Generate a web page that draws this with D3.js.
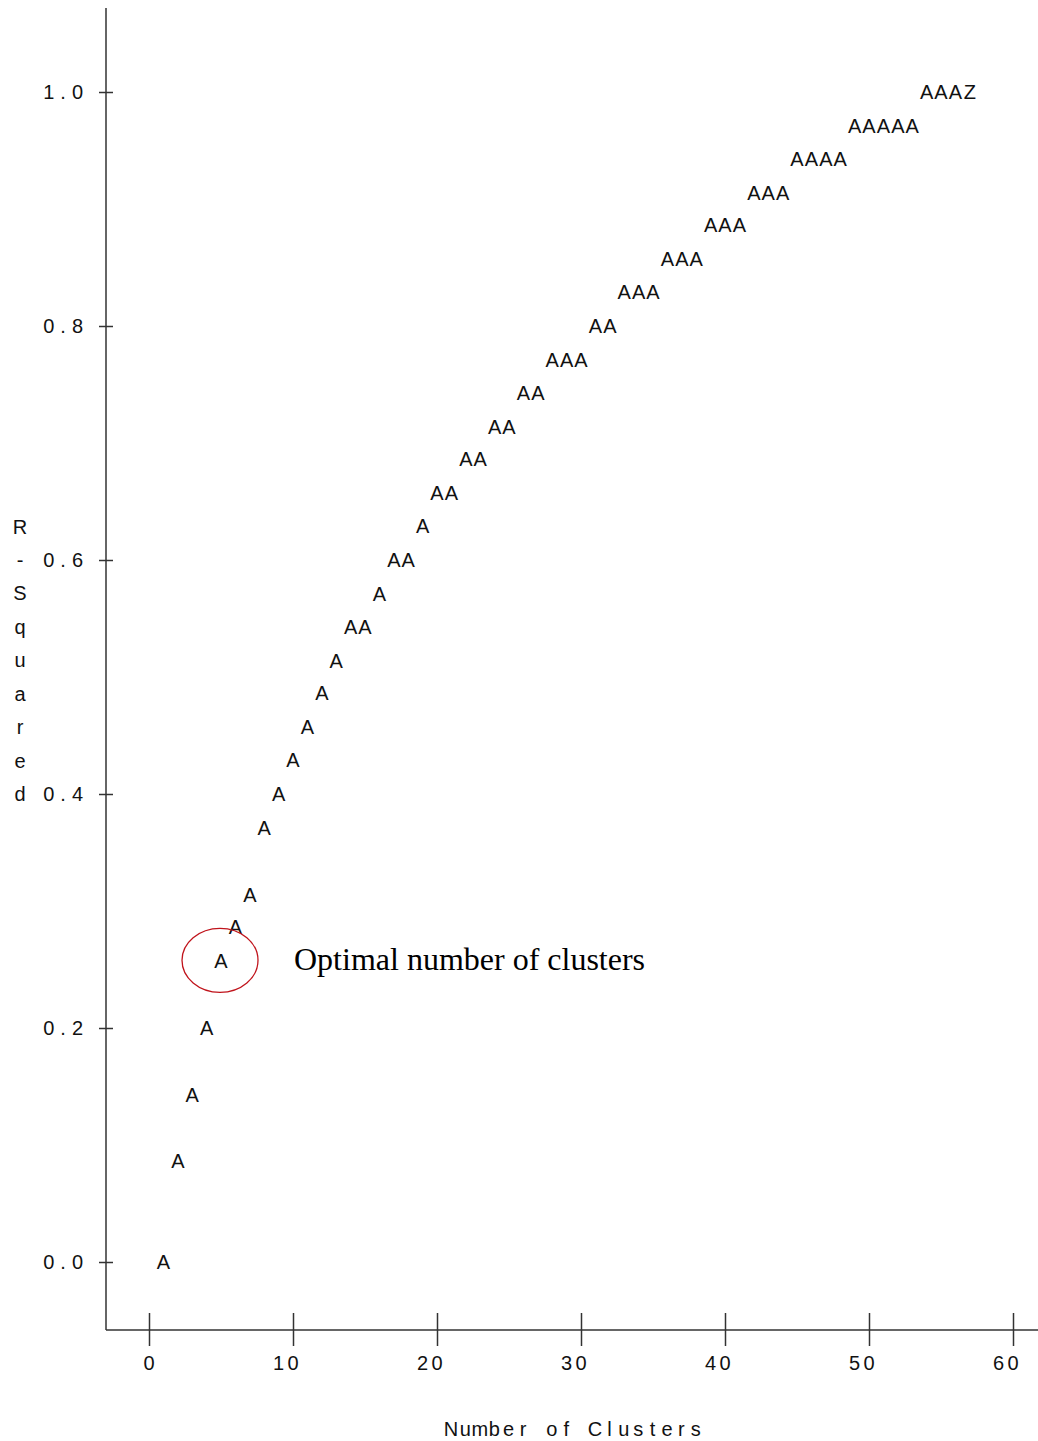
<!DOCTYPE html>
<html>
<head>
<meta charset="utf-8">
<script src="https://cdn.jsdelivr.net/npm/d3@7"></script>
<style>
  body { margin: 0; background: #fff; }
  svg text { font-family: "Liberation Sans", Arial, sans-serif; fill: #111; }
</style>
</head>
<body>
<script>
// #region DATA
var clusters = [1, 2, 3, 4, 5, 6, 7, 8, 9, 10, 11, 12, 13, 14, 15, 16, 17, 18, 19, 20,
    21, 22, 23, 24, 25, 26, 27, 28, 29, 30, 31, 32, 33, 34, 35, 36, 37, 38, 39, 40,
    41, 42, 43, 44, 45, 46, 47, 48, 49, 50, 51, 52, 53, 54, 55, 56, 57];
var rSquared = [0.000, 0.086, 0.143, 0.200, 0.257, 0.286, 0.314, 0.371, 0.400, 0.429,
    0.457, 0.486, 0.514, 0.543, 0.543, 0.571, 0.600, 0.600, 0.629, 0.657,
    0.657, 0.686, 0.686, 0.714, 0.714, 0.743, 0.743, 0.771, 0.771, 0.771,
    0.800, 0.800, 0.829, 0.829, 0.829, 0.857, 0.857, 0.857, 0.886, 0.886,
    0.886, 0.914, 0.914, 0.914, 0.943, 0.943, 0.943, 0.943, 0.971, 0.971,
    0.971, 0.971, 0.971, 1.000, 1.000, 1.000, 1.000];
var symbols = ["A", "A", "A", "A", "A", "A", "A", "A", "A", "A", "A", "A", "A", "A", "A",
    "A", "A", "A", "A", "A", "A", "A", "A", "A", "A", "A", "A", "A", "A", "A",
    "A", "A", "A", "A", "A", "A", "A", "A", "A", "A", "A", "A", "A", "A", "A",
    "A", "A", "A", "A", "A", "A", "A", "A", "A", "A", "A", "Z"];
var xTicks = [0, 10, 20, 30, 40, 50, 60];
var yTicks = [0, 0.2, 0.4, 0.6, 0.8, 1.0];
var xTitle = "Number of Clusters";
var yTitle = "R-Squared";
var note = "Optimal number of clusters";
var noteCluster = 5;
// #endregion

// #region SETUP
var width = 1038, height = 1441;
var pitch = 14.4; // line-printer character width

var svg = d3.select("body")
  .append("svg")
  .attr("width", width)
  .attr("height", height);

var x = d3.scaleLinear().domain([0, 60]).range([149, 1013]);
var y = d3.scaleLinear().domain([0, 1]).range([1262, 92]);
var rowH = (y(0) - y(1)) / 35;

var axisColor = "#333";
// #endregion

// #region AXES
svg.append("line")
    .attr("x1", 106).attr("x2", 106)
    .attr("y1", 8).attr("y2", 1330)
    .attr("stroke", axisColor).attr("stroke-width", 1.5);

svg.append("line")
    .attr("x1", 106).attr("x2", 1038)
    .attr("y1", 1330).attr("y2", 1330)
    .attr("stroke", axisColor).attr("stroke-width", 1.5);

var xAxis = svg.append("g")
    .attr("transform", "translate(0,1330)")
    .call(d3.axisBottom(x).tickValues(xTicks).tickSize(16).tickFormat(""));
xAxis.select(".domain").remove();
xAxis.selectAll(".tick line")
    .attr("y1", -17)
    .attr("stroke", axisColor)
    .attr("stroke-width", 1.5);

var yAxis = svg.append("g")
    .attr("transform", "translate(106,0)")
    .call(d3.axisLeft(y).tickValues(yTicks).tickSize(7).tickFormat(""));
yAxis.select(".domain").remove();
yAxis.selectAll(".tick line")
    .attr("x2", -7)
    .attr("x1", 7)
    .attr("stroke", axisColor)
    .attr("stroke-width", 1.5);

// monospaced placement: list of x positions, one per character
function charXs(str, lastX) {
    var n = str.length;
    return d3.range(n).map(i => (lastX - (n - 1 - i) * pitch).toFixed(1)).join(" ");
}

svg.append("g")
    .selectAll("text")
    .data(xTicks)
    .enter()
    .append("text")
        .text(d => String(d))
        .attr("x", d => charXs(String(d), x(d)))
        .attr("y", 1370)
        .attr("text-anchor", "middle")
        .attr("font-size", "20px");

svg.append("g")
    .selectAll("text")
    .data(yTicks)
    .enter()
    .append("text")
        .text(d => d.toFixed(1))
        .attr("x", d => charXs(d.toFixed(1), 77.5))
        .attr("y", d => y(d) + 7)
        .attr("text-anchor", "middle")
        .attr("font-size", "20px");

// x title
svg.append("text")
    .text(xTitle)
    .attr("x", charXs(xTitle, 451 + (xTitle.length - 1) * pitch))
    .attr("y", 1436)
    .attr("text-anchor", "middle")
    .attr("font-size", "20px");

// y title stacked down the rows
svg.append("text")
    .text(yTitle)
    .attr("x", d3.range(yTitle.length).map(() => 20).join(" "))
    .attr("y", d3.range(yTitle.length).map(i => (y(22 / 35) + i * rowH + 7).toFixed(1)).join(" "))
    .attr("text-anchor", "middle")
    .attr("font-size", "20px");
// #endregion

// #region POINTS
var points = clusters.map((c, i) => ({ c: c, r: rSquared[i], s: symbols[i] }));

svg.append("g")
    .attr("id", "points")
    .selectAll("text")
    .data(points)
    .enter()
    .append("text")
        .text(d => d.s)
        .attr("x", d => x(d.c))
        .attr("y", d => y(d.r) + 7)
        .attr("text-anchor", "middle")
        .attr("font-size", "20px");
// #endregion

// #region ANNOTATION
var target = points.find(d => d.c == noteCluster);

svg.append("ellipse")
    .attr("cx", x(target.c) - 1)
    .attr("cy", y(target.r) - 1)
    .attr("rx", 38)
    .attr("ry", 32)
    .attr("fill", "none")
    .attr("stroke", "#c0141c")
    .attr("stroke-width", 1.3);

svg.append("text")
    .text(note)
    .attr("x", 294)
    .attr("y", y(target.r) + 9)
    .style("font-family", "'Liberation Serif', 'Times New Roman', serif")
    .style("fill", "#000")
    .attr("font-size", "32px");
// #endregion
</script>
</body>
</html>
